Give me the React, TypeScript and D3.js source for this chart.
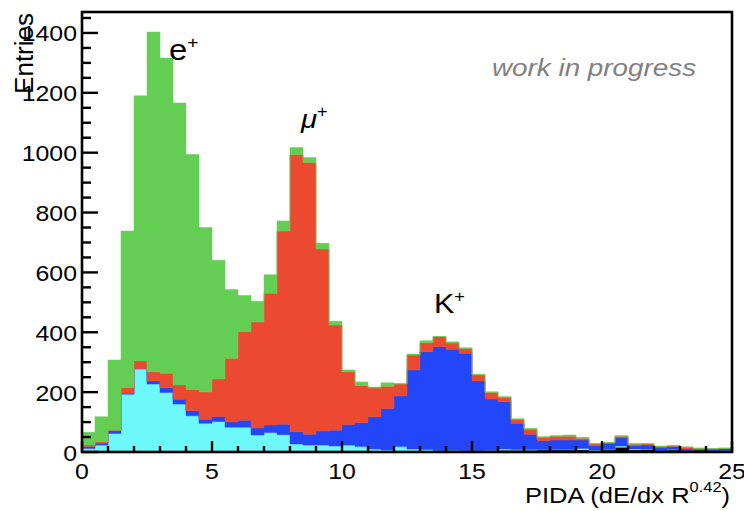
import React from 'react';
import * as d3 from 'd3';

// PIDA histogram: 50 bins of width 0.5 from 0 to 25, stacked by species
const BIN_WIDTH = 0.5;

const blackCounts = [1, 1, 1, 1, 1, 1, 1, 1, 1, 1, 1, 1, 1, 1, 1, 1, 1, 1, 1, 1, 2, 2, 2, 2, 3, 3, 3, 3, 4, 4, 5, 5, 6, 6, 6, 7, 7, 7, 7, 5, 7, 16, 7, 9, 1, 7, 1, 7, 1, 3];
const cyanCounts = [11, 22, 61, 192, 276, 226, 198, 159, 120, 95, 101, 82, 82, 56, 64, 57, 26, 22, 22, 19, 21, 16, 8, 5, 15, 7, 5, 2, 2, 1, 0, 1, 4, 2, 2, 1, 1, 1, 5, 2, 1, 4, 3, 1, 2, 1, 2, 1, 1, 1];
const blueCounts = [6, 6, 9, 3, 2, 10, 16, 16, 17, 13, 17, 17, 23, 23, 25, 35, 41, 36, 47, 53, 69, 80, 108, 138, 169, 264, 327, 347, 337, 325, 232, 171, 158, 88, 51, 30, 32, 32, 28, 14, 21, 28, 12, 13, 13, 10, 7, 1, 8, 8];
const redCounts = [5, 5, 2, 19, 25, 31, 48, 48, 71, 92, 125, 213, 296, 354, 440, 645, 926, 908, 608, 351, 176, 124, 96, 75, 40, 50, 30, 33, 21, 16, 20, 22, 15, 13, 17, 11, 13, 13, 6, 6, 2, 5, 4, 4, 2, 2, 6, 3, 0, 0];
const greenCounts = [43, 84, 234, 523, 886, 1135, 1053, 942, 785, 549, 397, 230, 121, 70, 62, 34, 23, 17, 19, 13, 6, 12, 3, 11, 2, 3, 7, 1, 4, 2, 3, 2, 2, 2, 3, 2, 1, 4, 3, 1, 1, 1, 2, 1, 2, 2, 1, 1, 1, 1];

const layerKeys = ['black', 'cyan', 'blue', 'red', 'green'];
const layerColors: Record<string, string> = {
  black: '#000000',
  cyan: '#6df8fa',
  blue: '#2246f8',
  red: '#eb4a31',
  green: '#64ce54',
};

const yMajorTicks = [0, 200, 400, 600, 800, 1000, 1200, 1400];
const xMajorTicks = [0, 5, 10, 15, 20, 25];

const W = 744;
const H = 511;
const plot = { left: 82, right: 732, top: 12, bottom: 452 };
const X_MAX = 25;
const Y_MAX = 1470;

const TEXT_FONT = '"Liberation Sans", Arial, Helvetica, sans-serif';
const SX = 1.13; // horizontal stretch of the text glyphs

export default function App() {
  const x = d3.scaleLinear().domain([0, X_MAX]).range([plot.left, plot.right]);
  const y = d3.scaleLinear().domain([0, Y_MAX]).range([plot.bottom, plot.top]);

  const rows = blackCounts.map((_, i) => ({
    black: blackCounts[i],
    cyan: cyanCounts[i],
    blue: blueCounts[i],
    red: redCounts[i],
    green: greenCounts[i],
  }));
  const series = d3.stack<any>().keys(layerKeys)(rows);

  const area = d3
    .area<[number, number]>()
    .x((_, i) => x(i * BIN_WIDTH))
    .y0((d) => y(d[0]))
    .y1((d) => y(d[1]))
    .curve(d3.curveStepAfter);

  const yMinor = d3.range(0, Y_MAX, 50);
  const xMinor = d3.range(0, X_MAX + 0.001, 1);

  return (
    <svg
      width={W}
      height={H}
      style={{ position: 'absolute', left: 0, top: 0, background: '#fff' }}
      fontFamily={TEXT_FONT}
    >
      <defs>
        <clipPath id="frame-clip">
          <rect x={plot.left} y={plot.top} width={plot.right - plot.left} height={plot.bottom - plot.top} />
        </clipPath>
      </defs>

      <g clipPath="url(#frame-clip)">
        {series.map((s) => {
          const pts = [...s.map((d) => [d[0], d[1]] as [number, number])];
          pts.push(pts[pts.length - 1]);
          return (
            <path
              key={s.key}
              d={area(pts) || ''}
              fill={layerColors[s.key]}
              stroke={layerColors[s.key]}
              strokeWidth={0.5}
            />
          );
        })}
      </g>

      {/* y ticks (inside the frame) */}
      {yMinor.map((v) => {
        const major = v % 200 === 0;
        return (
          <line
            key={'yt' + v}
            x1={plot.left}
            x2={plot.left + (major ? 16 : 9)}
            y1={y(v)}
            y2={y(v)}
            stroke="#000"
            strokeWidth={2.4}
          />
        );
      })}
      {/* x ticks */}
      {xMinor.map((v) => {
        const major = v % 5 === 0;
        return (
          <line
            key={'xt' + v}
            x1={x(v)}
            x2={x(v)}
            y1={plot.bottom}
            y2={plot.bottom - (major ? 11 : 6)}
            stroke="#000"
            strokeWidth={2.4}
          />
        );
      })}

      <rect
        x={plot.left}
        y={plot.top}
        width={plot.right - plot.left}
        height={plot.bottom - plot.top}
        fill="none"
        stroke="#000"
        strokeWidth={2.6}
      />

      {/* y tick labels */}
      {yMajorTicks.map((v) => (
        <text
          key={'yl' + v}
          transform={`translate(${plot.left - 5},${y(v) + 8.5}) scale(${SX},1)`}
          textAnchor="end"
          fontSize={22}
          fill="#000"
        >
          {v}
        </text>
      ))}
      {/* x tick labels */}
      {xMajorTicks.map((v) => (
        <text
          key={'xl' + v}
          transform={`translate(${x(v)},${479}) scale(${SX},1)`}
          textAnchor="middle"
          fontSize={22}
          fill="#000"
        >
          {v}
        </text>
      ))}

      {/* axis titles */}
      <text transform={`translate(730,503) scale(${SX},1)`} textAnchor="end" fontSize={22.6} fill="#000">
        PIDA (dE/dx R
        <tspan fontSize={14.5} dy={-11}>0.42</tspan>
        <tspan dy={11}>)</tspan>
      </text>
      <text transform="translate(33,13) rotate(-90)" textAnchor="end" fontSize={26} fill="#000">
        Entries
      </text>

      {/* species labels */}
      <text transform={`translate(169,60) scale(${SX},1)`} fontSize={29} fill="#000">
        e<tspan fontSize={17} dy={-12}>+</tspan>
      </text>
      <text transform={`translate(301,128) scale(${SX},1)`} fontSize={26} fontStyle="italic" fill="#000">
        μ<tspan fontSize={16} fontStyle="normal" dy={-11}>+</tspan>
      </text>
      <text transform={`translate(434,313) scale(${SX},1)`} fontSize={27} fill="#000">
        K<tspan fontSize={16} dy={-11}>+</tspan>
      </text>

      <text
        transform={`translate(492,76) scale(1.21,1)`}
        fontSize={23}
        fontStyle="italic"
        fill="#808080"
      >
        work in progress
      </text>
    </svg>
  );
}
